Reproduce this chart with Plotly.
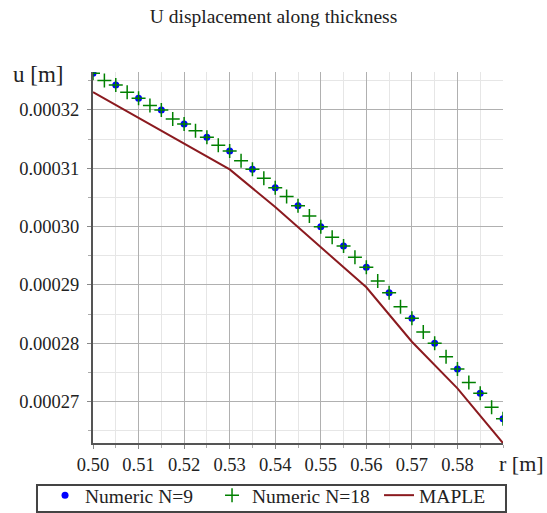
import plotly.graph_objects as go

# Numeric N=9 (every 0.005)
r9 = [0.500, 0.505, 0.510, 0.515, 0.520, 0.525, 0.530, 0.535, 0.540, 0.545,
      0.550, 0.555, 0.560, 0.565, 0.570, 0.575, 0.580, 0.585, 0.590]
u9 = [0.00032630, 0.00032429, 0.00032201, 0.00032000, 0.00031760, 0.00031532,
      0.00031297, 0.00030983, 0.00030667, 0.00030358, 0.00029998, 0.00029667,
      0.00029302, 0.00028866, 0.00028427, 0.00027998, 0.00027557, 0.00027141,
      0.00026705]

# Numeric N=18 (every 0.0025)
r18 = [0.5000, 0.5025, 0.5050, 0.5075, 0.5100, 0.5125, 0.5150, 0.5175, 0.5200,
       0.5225, 0.5250, 0.5275, 0.5300, 0.5325, 0.5350, 0.5375, 0.5400, 0.5425,
       0.5450, 0.5475, 0.5500, 0.5525, 0.5550, 0.5575, 0.5600, 0.5625, 0.5650,
       0.5675, 0.5700, 0.5725, 0.5750, 0.5775, 0.5800, 0.5825, 0.5850, 0.5875,
       0.5900]
u18 = [0.00032630, 0.00032503, 0.00032429, 0.00032304, 0.00032201, 0.00032074,
       0.00032000, 0.00031846, 0.00031760, 0.00031645, 0.00031532, 0.00031395,
       0.00031297, 0.00031130, 0.00030983, 0.00030828, 0.00030667, 0.00030516,
       0.00030358, 0.00030182, 0.00029998, 0.00029817, 0.00029667, 0.00029473,
       0.00029302, 0.00029067, 0.00028866, 0.00028626, 0.00028427, 0.00028192,
       0.00027998, 0.00027768, 0.00027557, 0.00027329, 0.00027141, 0.00026901,
       0.00026705]

# MAPLE analytical
r_maple = [0.50, 0.51, 0.52, 0.53, 0.54, 0.55, 0.56, 0.57, 0.58, 0.59]
u_maple = [0.00032304, 0.00031863, 0.00031417, 0.00030980, 0.00030335,
           0.00029655, 0.00028959, 0.00028026, 0.00027226, 0.00026288]

x_ticks = [0.50, 0.51, 0.52, 0.53, 0.54, 0.55, 0.56, 0.57, 0.58]
x_ticktext = ["0.50", "0.51", "0.52", "0.53", "0.54", "0.55", "0.56", "0.57", "0.58"]
y_ticks = [0.00027, 0.00028, 0.00029, 0.00030, 0.00031, 0.00032]
y_ticktext = ["0.00027", "0.00028", "0.00029", "0.00030", "0.00031", "0.00032"]

FONT = "Liberation Serif"
TXT = "#222222"

fig = go.Figure()
fig.add_trace(go.Scatter(
    x=r9, y=u9, mode="markers", name="Numeric N=9",
    marker=dict(symbol="circle", size=7, color="#0000ff"),
))
fig.add_trace(go.Scatter(
    x=r18, y=u18, mode="markers", name="Numeric N=18",
    marker=dict(symbol="cross-thin", size=10, color="#008000",
                line=dict(width=1.5, color="#008000")),
))
fig.add_trace(go.Scatter(
    x=r_maple, y=u_maple, mode="lines", name="MAPLE",
    line=dict(color="#8b1a1f", width=2),
))

fig.update_layout(
    width=547, height=513,
    margin=dict(l=93, r=44, t=72, b=70, autoexpand=False),
    paper_bgcolor="white", plot_bgcolor="white",
    font=dict(family=FONT, size=18, color=TXT),
    title=dict(text="U displacement along thickness", x=0.5, xanchor="center",
               y=0.968, yanchor="middle", font=dict(family=FONT, size=19.5, color=TXT)),
    showlegend=True,
    legend=dict(orientation="h", x=-0.117, xanchor="left",
                y=-0.0889, yanchor="top", bgcolor="rgba(0,0,0,0)",
                borderwidth=0, font=dict(family=FONT, size=19.5, color=TXT),
                itemwidth=30, tracegroupgap=0, entrywidth=122),
)

# legend frame
fig.add_shape(type="rect", xref="paper", yref="paper",
              x0=-0.1366, x1=1.0073, y0=-0.186, y1=-0.1132,
              line=dict(color="#444", width=2), fillcolor="rgba(0,0,0,0)")

fig.update_xaxes(
    range=[0.50, 0.59], tickvals=x_ticks, ticktext=x_ticktext,
    showgrid=True, gridcolor="#b0b0b0", gridwidth=1,
    showline=True, linecolor="#555", linewidth=2,
    ticks="outside", ticklen=4, tickcolor="#888",
    tickfont=dict(family=FONT, size=18.5, color=TXT),
    minor=dict(dtick=0.005, tick0=0.5, showgrid=True, gridcolor="#e6e6e6",
               ticks="outside", ticklen=3, tickcolor="#aaa"),
    zeroline=False, mirror=False,
)
fig.update_yaxes(
    range=[0.0002629, 0.0003265], tickvals=y_ticks, ticktext=y_ticktext,
    showgrid=True, gridcolor="#b0b0b0", gridwidth=1,
    showline=True, linecolor="#555", linewidth=2,
    ticks="outside", ticklen=4, tickcolor="#888",
    tickfont=dict(family=FONT, size=18.5, color=TXT),
    ticklabelstandoff=4,
    minor=dict(dtick=0.000005, tick0=0.00027, showgrid=True, gridcolor="#e6e6e6",
               ticks="outside", ticklen=3, tickcolor="#aaa"),
    zeroline=False,
)

fig.add_annotation(text="u [m]", xref="paper", yref="paper", x=-0.2, y=0.9946,
                   xanchor="left", yanchor="middle", showarrow=False,
                   font=dict(family=FONT, size=23, color=TXT))
fig.add_annotation(text="r [m]", xref="x", yref="paper", x=0.59, y=0,
                   xanchor="left", yanchor="middle", xshift=-6, yshift=-20,
                   showarrow=False,
                   font=dict(family=FONT, size=22, color=TXT))

fig.write_html("out.html")
